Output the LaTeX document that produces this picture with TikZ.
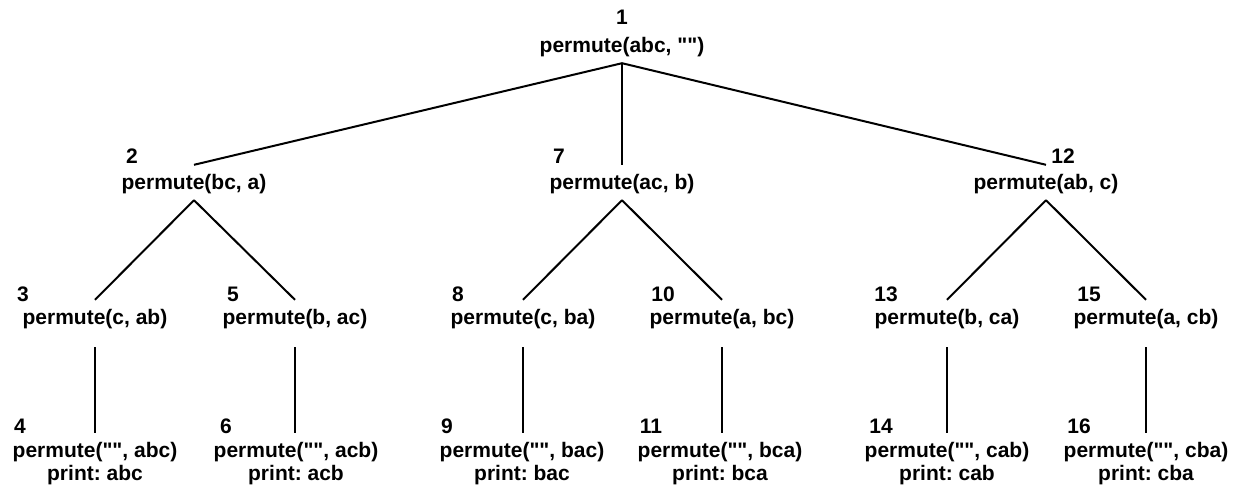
\documentclass[tikz,border=0pt]{standalone}
\usepackage{fontspec}
\setmainfont{Liberation Sans}[Ligatures=TeXOff]
\frenchspacing
\begin{document}
\begin{tikzpicture}[x=1pt,y=-1pt,
  every node/.style={font=\bfseries\fontsize{21}{24}\selectfont\frenchspacing, inner sep=0pt},
  numlabel/.style={anchor=base},
  callbox/.style={anchor=base, text height=24pt, text depth=11pt},
  leafcall/.style={anchor=base, text height=24pt, text depth=23pt},
  printline/.style={anchor=base},
  link/.style={line width=2pt}]
\useasboundingbox (0,0) rectangle (1243,488);
% row 0
\node[numlabel] (n1) at (622,24) {1};
\node[callbox] (p1) at (622,52) {permute(abc, "")};
% row 1
\node[numlabel] (n2) at (132,163) {2};
\node[callbox] (p2) at (194,189) {permute(bc, a)};
\node[numlabel] (n7) at (559,163) {7};
\node[callbox] (p7) at (622,189) {permute(ac, b)};
\node[numlabel] (n12) at (1063,163) {12};
\node[callbox] (p12) at (1046,189) {permute(ab, c)};
% row 2
\node[numlabel] (n3) at (23,301) {3};
\node[leafcall] (p3) at (95,324) {permute(c, ab)};
\node[numlabel] (n5) at (233,301) {5};
\node[leafcall] (p5) at (295,324) {permute(b, ac)};
\node[numlabel] (n8) at (458,301) {8};
\node[leafcall] (p8) at (523,324) {permute(c, ba)};
\node[numlabel] (n10) at (663,301) {10};
\node[leafcall] (p10) at (722,324) {permute(a, bc)};
\node[numlabel] (n13) at (886,301) {13};
\node[leafcall] (p13) at (947,324) {permute(b, ca)};
\node[numlabel] (n15) at (1089,301) {15};
\node[leafcall] (p15) at (1146,324) {permute(a, cb)};
% row 3
\node[numlabel] (n4) at (20,433) {4};
\node[callbox] (p4) at (95,457) {permute("", abc)};
\node[printline] (o4) at (95,480) {print: abc};
\node[numlabel] (n6) at (226,433) {6};
\node[callbox] (p6) at (296,457) {permute("", acb)};
\node[printline] (o6) at (296,480) {print: acb};
\node[numlabel] (n9) at (447,433) {9};
\node[callbox] (p9) at (522,457) {permute("", bac)};
\node[printline] (o9) at (522,480) {print: bac};
\node[numlabel] (n11) at (651,433) {11};
\node[callbox] (p11) at (720,457) {permute("", bca)};
\node[printline] (o11) at (720,480) {print: bca};
\node[numlabel] (n14) at (881,433) {14};
\node[callbox] (p14) at (947,457) {permute("", cab)};
\node[printline] (o14) at (947,480) {print: cab};
\node[numlabel] (n16) at (1079,433) {16};
\node[callbox] (p16) at (1146,457) {permute("", cba)};
\node[printline] (o16) at (1146,480) {print: cba};
% connectors
\draw[link] (p1.south) -- (p2.north);
\draw[link] (p1.south) -- (p7.north);
\draw[link] (p1.south) -- (p12.north);
\draw[link] (p2.south) -- (p3.north);
\draw[link] (p2.south) -- (p5.north);
\draw[link] (p7.south) -- (p8.north);
\draw[link] (p7.south) -- (p10.north);
\draw[link] (p12.south) -- (p13.north);
\draw[link] (p12.south) -- (p15.north);
\draw[link] (p3.south) -- (p3.south |- p4.north);
\draw[link] (p5.south) -- (p5.south |- p6.north);
\draw[link] (p8.south) -- (p8.south |- p9.north);
\draw[link] (p10.south) -- (p10.south |- p11.north);
\draw[link] (p13.south) -- (p13.south |- p14.north);
\draw[link] (p15.south) -- (p15.south |- p16.north);
\end{tikzpicture}
\end{document}
